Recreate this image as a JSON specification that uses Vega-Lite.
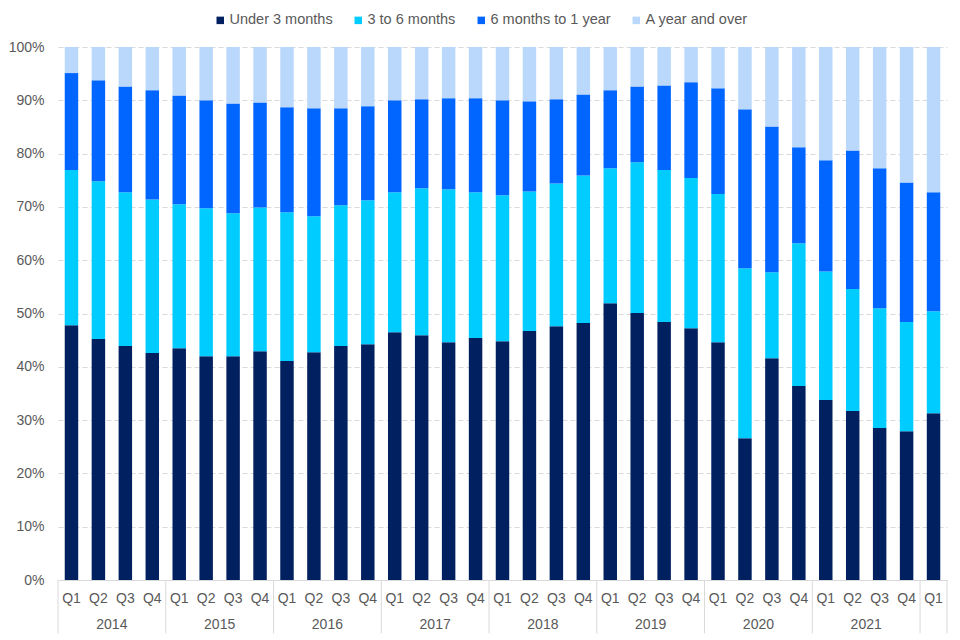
{
  "$schema": "https://vega.github.io/schema/vega-lite/v6.json",
  "autosize": {"type": "none"},
  "padding": {"left": 58, "top": 47, "right": 13, "bottom": 60},
  "width": 889,
  "height": 533,
  "background": "white",
  "config": {
    "view": {"stroke": null},
    "font": "Liberation Sans"
  },
  "datasets": {
    "quarters": [
      {"period": "2014 Q1", "Under 3 months": 47.8, "3 to 6 months": 29.1, "6 months to 1 year": 18.2, "A year and over": 4.9},
      {"period": "2014 Q2", "Under 3 months": 45.2, "3 to 6 months": 29.6, "6 months to 1 year": 18.95, "A year and over": 6.25},
      {"period": "2014 Q3", "Under 3 months": 43.9, "3 to 6 months": 28.85, "6 months to 1 year": 19.85, "A year and over": 7.4},
      {"period": "2014 Q4", "Under 3 months": 42.6, "3 to 6 months": 28.8, "6 months to 1 year": 20.5, "A year and over": 8.1},
      {"period": "2015 Q1", "Under 3 months": 43.5, "3 to 6 months": 27.0, "6 months to 1 year": 20.4, "A year and over": 9.1},
      {"period": "2015 Q2", "Under 3 months": 42.0, "3 to 6 months": 27.75, "6 months to 1 year": 20.25, "A year and over": 10.0},
      {"period": "2015 Q3", "Under 3 months": 42.0, "3 to 6 months": 26.8, "6 months to 1 year": 20.6, "A year and over": 10.6},
      {"period": "2015 Q4", "Under 3 months": 42.9, "3 to 6 months": 27.0, "6 months to 1 year": 19.7, "A year and over": 10.4},
      {"period": "2016 Q1", "Under 3 months": 41.1, "3 to 6 months": 27.9, "6 months to 1 year": 19.7, "A year and over": 11.3},
      {"period": "2016 Q2", "Under 3 months": 42.75, "3 to 6 months": 25.5, "6 months to 1 year": 20.25, "A year and over": 11.5},
      {"period": "2016 Q3", "Under 3 months": 43.9, "3 to 6 months": 26.4, "6 months to 1 year": 18.2, "A year and over": 11.5},
      {"period": "2016 Q4", "Under 3 months": 44.25, "3 to 6 months": 27.0, "6 months to 1 year": 17.65, "A year and over": 11.1},
      {"period": "2017 Q1", "Under 3 months": 46.5, "3 to 6 months": 26.25, "6 months to 1 year": 17.25, "A year and over": 10.0},
      {"period": "2017 Q2", "Under 3 months": 45.9, "3 to 6 months": 27.6, "6 months to 1 year": 16.7, "A year and over": 9.8},
      {"period": "2017 Q3", "Under 3 months": 44.6, "3 to 6 months": 28.7, "6 months to 1 year": 17.1, "A year and over": 9.6},
      {"period": "2017 Q4", "Under 3 months": 45.4, "3 to 6 months": 27.35, "6 months to 1 year": 17.65, "A year and over": 9.6},
      {"period": "2018 Q1", "Under 3 months": 44.8, "3 to 6 months": 27.4, "6 months to 1 year": 17.8, "A year and over": 10.0},
      {"period": "2018 Q2", "Under 3 months": 46.7, "3 to 6 months": 26.2, "6 months to 1 year": 16.9, "A year and over": 10.2},
      {"period": "2018 Q3", "Under 3 months": 47.6, "3 to 6 months": 26.8, "6 months to 1 year": 15.8, "A year and over": 9.8},
      {"period": "2018 Q4", "Under 3 months": 48.2, "3 to 6 months": 27.7, "6 months to 1 year": 15.2, "A year and over": 8.9},
      {"period": "2019 Q1", "Under 3 months": 51.9, "3 to 6 months": 25.35, "6 months to 1 year": 14.65, "A year and over": 8.1},
      {"period": "2019 Q2", "Under 3 months": 50.1, "3 to 6 months": 28.3, "6 months to 1 year": 14.2, "A year and over": 7.4},
      {"period": "2019 Q3", "Under 3 months": 48.4, "3 to 6 months": 28.5, "6 months to 1 year": 15.9, "A year and over": 7.2},
      {"period": "2019 Q4", "Under 3 months": 47.25, "3 to 6 months": 28.15, "6 months to 1 year": 18.0, "A year and over": 6.6},
      {"period": "2020 Q1", "Under 3 months": 44.6, "3 to 6 months": 27.8, "6 months to 1 year": 19.85, "A year and over": 7.75},
      {"period": "2020 Q2", "Under 3 months": 26.6, "3 to 6 months": 31.9, "6 months to 1 year": 29.8, "A year and over": 11.7},
      {"period": "2020 Q3", "Under 3 months": 41.6, "3 to 6 months": 16.15, "6 months to 1 year": 27.35, "A year and over": 14.9},
      {"period": "2020 Q4", "Under 3 months": 36.4, "3 to 6 months": 26.8, "6 months to 1 year": 18.0, "A year and over": 18.8},
      {"period": "2021 Q1", "Under 3 months": 33.75, "3 to 6 months": 24.15, "6 months to 1 year": 20.85, "A year and over": 21.25},
      {"period": "2021 Q2", "Under 3 months": 31.7, "3 to 6 months": 22.9, "6 months to 1 year": 26.0, "A year and over": 19.4},
      {"period": "2021 Q3", "Under 3 months": 28.5, "3 to 6 months": 22.5, "6 months to 1 year": 26.25, "A year and over": 22.75},
      {"period": "2021 Q4", "Under 3 months": 27.9, "3 to 6 months": 20.5, "6 months to 1 year": 26.2, "A year and over": 25.4},
      {"period": "2022 Q1", "Under 3 months": 31.3, "3 to 6 months": 19.1, "6 months to 1 year": 22.35, "A year and over": 27.25}
    ],
    "years": [
      {"year": "2014", "period": "2014 Q2"},
      {"year": "2015", "period": "2015 Q2"},
      {"year": "2016", "period": "2016 Q2"},
      {"year": "2017", "period": "2017 Q2"},
      {"year": "2018", "period": "2018 Q2"},
      {"year": "2019", "period": "2019 Q2"},
      {"year": "2020", "period": "2020 Q2"},
      {"year": "2021", "period": "2021 Q2"}
    ],
    "boundaries": [
      {"period": "2014 Q4"},
      {"period": "2015 Q4"},
      {"period": "2016 Q4"},
      {"period": "2017 Q4"},
      {"period": "2018 Q4"},
      {"period": "2019 Q4"},
      {"period": "2020 Q4"},
      {"period": "2021 Q4"},
      {"period": "2022 Q1"}
    ],
    "start": [
      {"period": "2014 Q1"}
    ]
  },
  "layer": [
    {
      "data": {"name": "quarters"},
      "transform": [
        {"fold": ["Under 3 months", "3 to 6 months", "6 months to 1 year", "A year and over"], "as": ["duration", "share"]},
        {"calculate": "indexof(['Under 3 months', '3 to 6 months', '6 months to 1 year', 'A year and over'], datum.duration)", "as": "stack_order"}
      ],
      "mark": {"type": "bar"},
      "encoding": {
        "x": {
          "field": "period",
          "type": "nominal",
          "scale": {"paddingInner": 0.5, "paddingOuter": 0.25},
          "axis": {
            "title": null,
            "labelExpr": "substring(datum.value, 5)",
            "labelAngle": 0,
            "ticks": false,
            "tickSize": 0,
            "domain": true,
            "domainColor": "#D9D9D9",
            "domainWidth": 1,
            "labelPadding": 11,
            "labelFontSize": 14,
            "labelColor": "#595959",
            "labelFont": "Liberation Sans",
            "grid": false
          }
        },
        "y": {
          "field": "share",
          "type": "quantitative",
          "stack": "normalize",
          "scale": {"domain": [0, 1], "nice": false},
          "axis": {
            "title": null,
            "format": ".0%",
            "values": [0, 0.1, 0.2, 0.3, 0.4, 0.5, 0.6, 0.7, 0.8, 0.9, 1],
            "ticks": false,
            "tickSize": 0,
            "domain": false,
            "labelPadding": 14,
            "labelFontSize": 14,
            "labelColor": "#595959",
            "labelFont": "Liberation Sans",
            "grid": true,
            "gridColor": "#D9D9D9",
            "gridDash": [5, 3],
            "gridWidth": 1
          }
        },
        "color": {
          "field": "duration",
          "type": "nominal",
          "scale": {
            "domain": ["Under 3 months", "3 to 6 months", "6 months to 1 year", "A year and over"],
            "range": ["#002060", "#00CCFF", "#0066FF", "#BAD8FC"]
          },
          "legend": {
            "title": null,
            "orient": "none",
            "legendX": 155,
            "legendY": -34,
            "direction": "horizontal",
            "symbolType": "square",
            "symbolSize": 56,
            "symbolStrokeWidth": 0,
            "labelFontSize": 14.5,
            "labelColor": "#595959",
            "labelFont": "Liberation Sans",
            "labelOffset": 2,
            "columnPadding": 18,
            "padding": 0
          }
        },
        "order": {"field": "stack_order", "type": "quantitative"}
      }
    },
    {
      "data": {"name": "boundaries"},
      "mark": {"type": "rule", "color": "#D9D9D9", "strokeWidth": 1},
      "encoding": {
        "x": {"field": "period", "type": "nominal", "bandPosition": 1.5},
        "y": {"datum": 0},
        "y2": {"datum": -0.1}
      }
    },
    {
      "data": {"name": "start"},
      "mark": {"type": "rule", "color": "#D9D9D9", "strokeWidth": 1},
      "encoding": {
        "x": {"field": "period", "type": "nominal", "bandPosition": -0.5},
        "y": {"datum": 0},
        "y2": {"datum": -0.1}
      }
    },
    {
      "data": {"name": "years"},
      "mark": {"type": "text", "fontSize": 14, "color": "#595959", "font": "Liberation Sans", "baseline": "middle", "align": "center"},
      "encoding": {
        "x": {"field": "period", "type": "nominal", "bandPosition": 1.5},
        "y": {"datum": -0.0845},
        "text": {"field": "year"}
      }
    }
  ]
}
